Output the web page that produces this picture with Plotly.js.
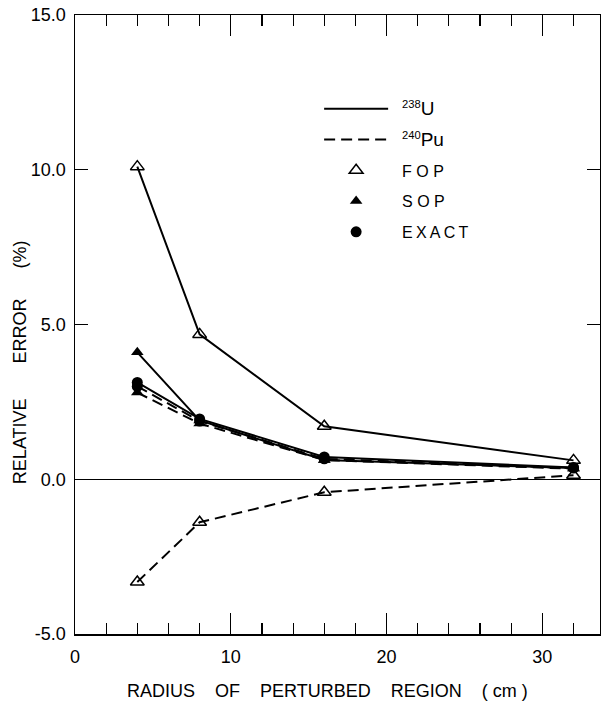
<!DOCTYPE html>
<html>
<head>
<meta charset="utf-8">
<script src="https://cdn.plot.ly/plotly-3.0.1.min.js"></script>
<style>
  html, body { margin: 0; padding: 0; background: #fff; }
  #chart { width: 601px; height: 705px; }
</style>
</head>
<body>
<div id="chart"></div>
<script>
// Radius of perturbed region (cm)
var radius = [4, 8, 16, 32];

// Relative error (%) — 238U (solid lines)
var u238_FOP   = [10.1, 4.68, 1.71, 0.61];
var u238_SOP   = [4.1, 1.9, 0.62, 0.36];
var u238_EXACT = [3.13, 1.95, 0.72, 0.38];

// Relative error (%) — 240Pu (dashed lines)
var pu240_FOP   = [-3.32, -1.39, -0.42, 0.13];
var pu240_SOP   = [2.8, 1.8, 0.62, 0.34];
var pu240_EXACT = [3.0, 1.88, 0.66, 0.36];

var yTickVals = [-5, 0, 5, 10, 15];
var yTickText = ['-5.0', '0.0', '5.0', '10.0', '15.0'];
var xTickVals = [0, 10, 20, 30];
var xTickText = ['0', '10', '20', '30'];

var pad = '\u00a0\u00a0';
var legendNames = {
  u: pad + '<sup>238</sup><span style="font-size:19px">U</span>',
  pu: pad + '<sup>240</sup><span style="font-size:19px">Pu</span>',
  fop: pad + 'F O P',
  sop: pad + 'S O P',
  exact: pad + 'E\u2009X\u2009A\u2009C\u2009T'
};

var black = '#000';
var solid = {color: black, width: 2, dash: 'solid'};
var dashed = {color: black, width: 2, dash: '11px,6px'};
var mFOP = {symbol: 'triangle-up-open', size: 12, color: black, line: {color: black, width: 1.5}};
var mSOP = {symbol: 'triangle-up', size: 11, color: black, line: {color: black, width: 0}};
var mEX = {symbol: 'circle', size: 11, color: black, line: {color: black, width: 0}};

function series(y, line, marker) {
  return {x: radius, y: y, type: 'scatter', mode: 'lines+markers',
          line: line, marker: marker, showlegend: false, hoverinfo: 'skip', cliponaxis: false};
}

var data = [
  series(pu240_FOP, dashed, mFOP),
  series(pu240_SOP, dashed, mSOP),
  series(pu240_EXACT, dashed, mEX),
  series(u238_FOP, solid, mFOP),
  series(u238_SOP, solid, mSOP),
  series(u238_EXACT, solid, mEX),
  // legend entries
  {x: [null], y: [null], type: 'scatter', mode: 'lines', line: solid, name: legendNames.u, legendgroup: 'a', legendrank: 1},
  {x: [null], y: [null], type: 'scatter', mode: 'lines', line: dashed, name: legendNames.pu, legendgroup: 'b', legendrank: 2},
  {x: [null], y: [null], type: 'scatter', mode: 'markers', marker: mFOP, name: legendNames.fop, legendgroup: 'c', legendrank: 3},
  {x: [null], y: [null], type: 'scatter', mode: 'markers', marker: mSOP, name: legendNames.sop, legendgroup: 'd', legendrank: 4},
  {x: [null], y: [null], type: 'scatter', mode: 'markers', marker: mEX, name: legendNames.exact, legendgroup: 'e', legendrank: 5}
];

var tickFont = {family: 'Liberation Sans, Arial, sans-serif', size: 18, color: black};

var layout = {
  width: 601, height: 705,
  margin: {l: 75, r: 1, t: 15, b: 71},
  paper_bgcolor: '#fff', plot_bgcolor: '#fff',
  font: {family: 'Liberation Sans, Arial, sans-serif', color: black},
  showlegend: true,
  legend: {
    x: 0.465, y: 0.876, xanchor: 'left', yanchor: 'top',
    bgcolor: 'rgba(0,0,0,0)', borderwidth: 0,
    font: {family: 'Liberation Sans, Arial, sans-serif', size: 16, color: black},
    traceorder: 'grouped', tracegroupgap: 7, itemwidth: 64, itemclick: false
  },
  xaxis: {
    range: [0, 33.7], showgrid: false, zeroline: false,
    showline: true, linecolor: black, linewidth: 1.5, mirror: 'ticks',
    ticks: 'inside', ticklen: 21, tickwidth: 1.2, tickcolor: black,
    tickmode: 'array', tickvals: xTickVals, ticktext: xTickText,
    tickfont: tickFont, ticklabelstandoff: 6,
    minor: {dtick: 2, tick0: 0, ticks: 'inside', ticklen: 11, tickwidth: 1.2, tickcolor: black, showgrid: false}
  },
  yaxis: {
    range: [-5, 15], showgrid: false,
    zeroline: true, zerolinecolor: black, zerolinewidth: 1,
    showline: true, linecolor: black, linewidth: 1.5, mirror: 'ticks',
    ticks: 'inside', ticklen: 13, tickwidth: 1.2, tickcolor: black,
    tickmode: 'array', tickvals: yTickVals, ticktext: yTickText,
    tickfont: tickFont, ticklabelstandoff: 4
  },
  annotations: [
    {xref: 'paper', yref: 'paper', x: 0.481, y: -0.092, xanchor: 'center', yanchor: 'middle',
     text: 'RADIUS\u00a0\u00a0\u00a0\u00a0OF\u00a0\u00a0\u00a0\u00a0PERTURBED\u00a0\u00a0\u00a0\u00a0REGION\u00a0\u00a0\u00a0\u00a0(\u00a0cm\u00a0)',
     showarrow: false, font: {family: 'Liberation Sans, Arial, sans-serif', size: 18, color: black}},
    {xref: 'paper', yref: 'paper', x: -0.105, y: 0.439, xanchor: 'center', yanchor: 'middle',
     textangle: -90,
     text: 'RELATIVE\u00a0\u00a0\u00a0\u00a0\u00a0\u00a0\u00a0ERROR\u00a0\u00a0\u00a0\u00a0\u00a0\u00a0(%)',
     showarrow: false, font: {family: 'Liberation Sans, Arial, sans-serif', size: 18, color: black}}
  ]
};

Plotly.newPlot('chart', data, layout, {displayModeBar: false, staticPlot: true});
</script>
</body>
</html>
